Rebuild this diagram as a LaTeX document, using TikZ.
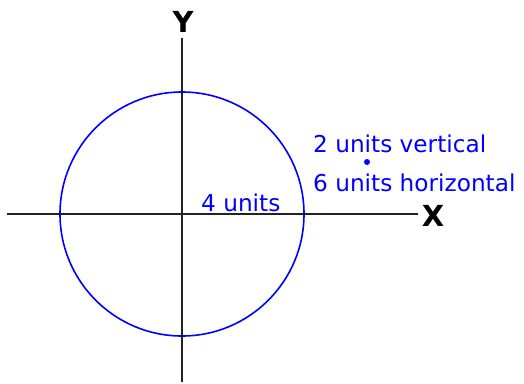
\documentclass[tikz,border=0pt]{standalone}
\usepackage{fontspec}
\setmainfont{DejaVu Sans}
\usetikzlibrary{positioning}
\definecolor{cazul}{RGB}{0,0,255}
\definecolor{ceje}{HTML}{222222}
\tikzset{
  eje/.style={draw=ceje, line width=2.2pt},
  etiqueta/.style={font=\fontsize{23.2}{26}\selectfont, text=cazul, inner sep=0pt, anchor=base west},
  nombre/.style={font=\fontsize{29}{32}\selectfont\bfseries, inner sep=0pt},
}

\begin{document}
\begin{tikzpicture}[x=1pt, y=-1pt]
  \useasboundingbox (0,0) rectangle (524,383);
  \coordinate (o) at (182,214);
  \coordinate (xizq) at (7,214);
  \coordinate (xder) at (418,214);
  \coordinate (yarr) at (182,38);
  \coordinate (yab) at (182,382);

  \draw[eje] (xizq) -- (xder);
  \draw[eje] (yarr) -- (yab);
  \node[nombre] (ejex) at (433,216) {X};
  \node[nombre] (ejey) at (183,22) {Y};

  \draw[cazul, line width=1.6pt] (o) circle (122pt);
  \node[circle, fill=cazul, inner sep=0pt, minimum size=6pt] (punto) at (367,162) {};

  \node[etiqueta] (vert) at (313,152) {2 units vertical};
  \node[etiqueta] (hor) at (313,191) {6 units horizontal};
  \node[etiqueta] (radio) at (201,211) {4 units};
\end{tikzpicture}
\end{document}
